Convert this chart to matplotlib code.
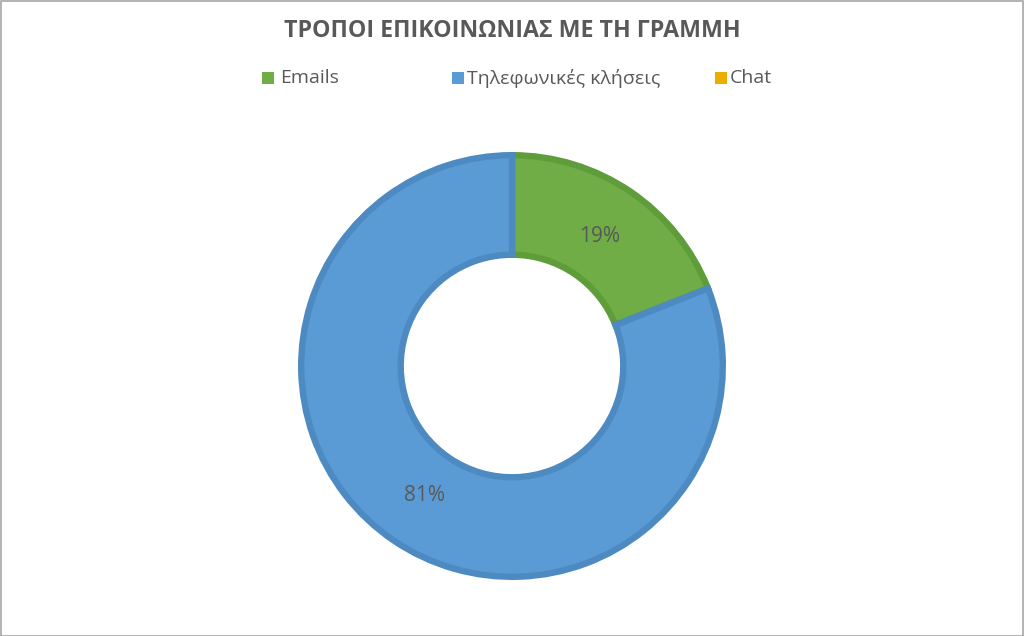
import matplotlib
matplotlib.use("Agg")
import matplotlib.pyplot as plt
from matplotlib.patches import Rectangle
import numpy as np

# ---- data ----
title = "ΤΡΟΠΟΙ ΕΠΙΚΟΙΝΩΝΙΑΣ ΜΕ ΤΗ ΓΡΑΜΜΗ"
categories = ["Emails", "Τηλεφωνικές κλήσεις", "Chat"]
values = [19, 81, 0]

# ---- style ----
face_colors = ["#70AD47", "#5B9BD5", "#EBAE00"]
edge_colors = ["#5F9C3A", "#4D8AC2", "#D9A000"]
text_color = "#595959"
font = ["Open Sans", "DejaVu Sans"]

W, H = 1024, 636
fig = plt.figure(figsize=(W / 100, H / 100), dpi=100)
fig.patch.set_facecolor("white")

# border around the chart area
fig.add_artist(Rectangle((0.5 / W, 0.5 / H), 1 - 1.5 / W, 1 - 1.5 / H,
                         transform=fig.transFigure, fill=False,
                         edgecolor="#A6A6A6", linewidth=1.2))

# donut axes: centre (512, 366) px, radius 214 px
cx, cy, R = 512, 366, 214
ax = fig.add_axes([(cx - R) / W, (H - cy - R) / H, 2 * R / W, 2 * R / H])

r_out = 0.985
r_in = 0.52
wedges, _ = ax.pie(values, radius=r_out, startangle=90, counterclock=False,
                   colors=face_colors,
                   wedgeprops=dict(width=r_out - r_in, linewidth=4.6))
for w, ec, v in zip(wedges, edge_colors, values):
    w.set_edgecolor(ec)
    w.set_joinstyle("miter")
    if v == 0:
        w.set_visible(False)
ax.set_xlim(-1, 1)
ax.set_ylim(-1, 1)
ax.set_aspect("equal")
ax.axis("off")

# percent labels
total = sum(values)
start = 90.0
r_lab = 0.73
for v in values:
    if v == 0:
        continue
    ang = start - 360 * v / total / 2
    x = r_lab * np.cos(np.radians(ang))
    y = r_lab * np.sin(np.radians(ang))
    ax.text(x, y, f"{round(100 * v / total)}%", ha="center", va="center",
            fontsize=15, color=text_color, family=font)
    start -= 360 * v / total

# title
fig.text(0.5, 1 - 31 / H, title, ha="center", va="center", fontsize=16.7,
         fontweight="bold", color=text_color, family=font)

# legend
leg_marker_x = [262, 452, 715]
leg_text_x = [280, 467, 730]
leg_y = 78
msz = 12
for xm, xt, lab, fc in zip(leg_marker_x, leg_text_x, categories, face_colors):
    fig.add_artist(Rectangle((xm / W, (H - leg_y - msz / 2) / H), msz / W, msz / H,
                             transform=fig.transFigure, facecolor=fc,
                             edgecolor="none"))
    fig.text(xt / W, 1 - leg_y / H, lab, ha="left", va="center",
             fontsize=14, color=text_color, family=font)

fig.savefig("out.png", dpi=100, facecolor="white")
